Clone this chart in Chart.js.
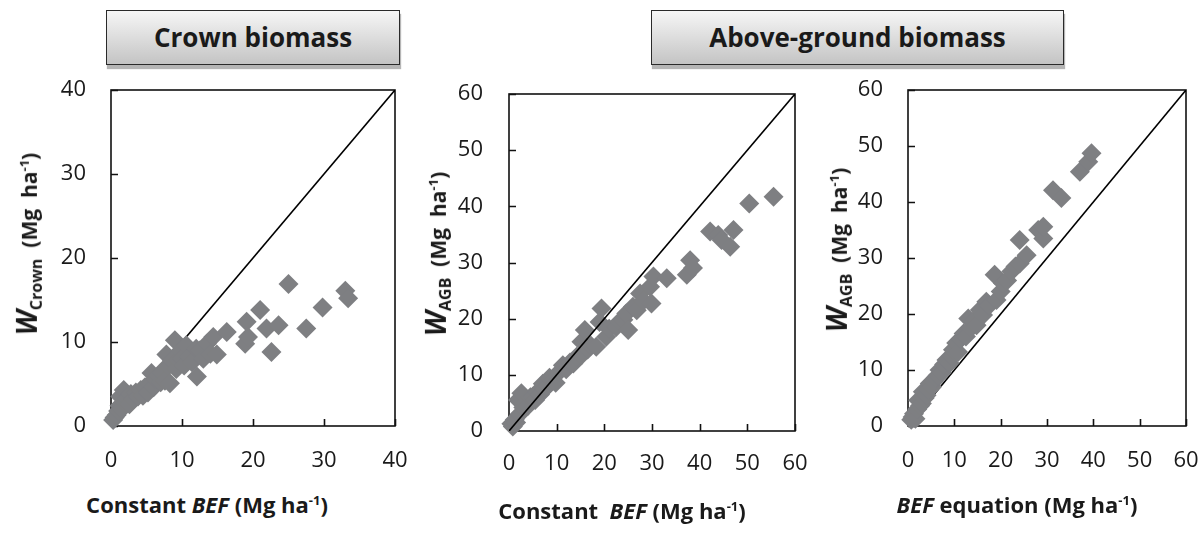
<!DOCTYPE html>
<html>
<head>
<meta charset="utf-8">
<script src="https://cdn.jsdelivr.net/npm/chart.js@4.4.1/dist/chart.umd.min.js"></script>
<style>
  body { margin: 0; background: #fff; width: 1204px; height: 540px; overflow: hidden; position: relative; font-family: "Open Sans", sans-serif; color: #1a1a1a; }
  .panel { position: absolute; }
  .head {
    position: absolute; height: 55px; box-sizing: border-box;
    border: 1.5px solid #2a2a2a;
    background: linear-gradient(#f6f6f6, #c4c4c4);
    box-shadow: 1px 4px 1px #b5b5b5;
    font-weight: bold; font-size: 26px; text-align: center; line-height: 52px;
  }
  .xt, .yt { position: absolute; white-space: nowrap; font-weight: bold; font-size: 22px; transform: translate(-50%, -50%); }
  .yt { font-size: 21px; transform: translate(-50%, -50%) rotate(-90deg); }
  .yt i { font-size: 28px; }
  .yt sub { font-size: 16px; }
  sup { font-size: 13px; }
</style>
</head>
<body>
<div class="head" style="left:106px; top:10px; width:294px;">Crown biomass</div>
<div class="head" style="left:651px; top:10px; width:413px;">Above-ground biomass</div>

<canvas id="c1" class="panel" width="415" height="440" style="left:30px; top:40px;"></canvas>
<canvas id="c2" class="panel" width="405" height="440" style="left:440px; top:44px;"></canvas>
<canvas id="c3" class="panel" width="396" height="440" style="left:840px; top:40px;"></canvas>

<div class="yt" style="left:27px; top:244px;"><i>W</i><sub>Crown</sub>&nbsp; (Mg&nbsp; ha<sup>-1</sup>)</div>
<div class="yt" style="left:436px; top:254px;"><i>W</i><sub>AGB</sub>&nbsp; (Mg&nbsp; ha<sup>-1</sup>)</div>
<div class="yt" style="left:837px; top:250px;"><i>W</i><sub>AGB</sub>&nbsp; (Mg&nbsp; ha<sup>-1</sup>)</div>

<div class="xt" style="left:207px; top:504px;">Constant <i>BEF</i> (Mg ha<sup>-1</sup>)</div>
<div class="xt" style="left:622px; top:510px;">Constant&nbsp; <i>BEF</i> (Mg ha<sup>-1</sup>)</div>
<div class="xt" style="left:1017px; top:504px;"><i>BEF</i> equation (Mg ha<sup>-1</sup>)</div>

<script>
// crown biomass: constant BEF (x) vs W crown (y)
const crownX = [0.3, 0.5, 0.8, 1.0, 1.2, 1.5, 1.3, 1.8, 2.0, 2.3, 2.6, 2.8, 3.2, 3.5, 3.8, 4.2, 4.5, 4.8, 5.2, 5.5, 5.7, 6.0, 6.3, 6.6, 7.0, 7.2, 7.6, 7.8, 8.0, 8.3, 8.6, 9.0, 9.2, 9.5, 9.8, 10.0, 10.3, 10.6, 11.0, 11.4, 12.1, 12.0, 12.5, 13.0, 13.5, 14.0, 14.4, 14.9, 16.3, 18.9, 19.1, 19.3, 21.0, 21.9, 22.6, 23.6, 25.0, 27.5, 29.8, 33.0, 33.4];
const crownY = [0.7, 1.0, 1.3, 1.8, 2.4, 2.0, 3.5, 4.3, 2.8, 3.3, 2.6, 3.8, 3.2, 4.0, 3.5, 4.3, 3.6, 4.6, 4.0, 5.0, 6.3, 4.6, 5.6, 6.0, 5.2, 6.4, 5.4, 8.5, 7.2, 5.1, 7.8, 10.2, 6.8, 7.9, 9.0, 8.0, 7.2, 9.6, 8.3, 7.6, 5.9, 9.2, 9.0, 8.0, 9.8, 8.6, 10.6, 8.5, 11.2, 9.8, 12.4, 10.6, 13.8, 11.6, 8.8, 12.0, 16.9, 11.6, 14.1, 16.1, 15.2];

// above-ground biomass: constant BEF
const agbConstX = [0.5, 0.8, 1.2, 1.5, 1.9, 2.2, 2.6, 3.0, 3.5, 4.0, 4.5, 5.0, 5.5, 6.0, 6.5, 7.1, 7.5, 8.0, 8.5, 9.2, 9.8, 10.5, 11.3, 12.0, 12.8, 13.5, 14.2, 15.2, 15.2, 15.9, 16.5, 17.2, 18.3, 19.0, 19.4, 20.4, 21.0, 22.5, 23.2, 24.0, 24.6, 25.0, 26.0, 26.8, 27.5, 28.2, 29.6, 29.9, 30.3, 33.1, 37.3, 38.0, 38.6, 42.2, 43.9, 44.6, 46.4, 47.1, 50.4, 55.5];
const agbConstY = [1.3, 0.8, 2.0, 1.5, 5.5, 3.0, 6.7, 4.2, 5.0, 4.5, 6.0, 6.1, 5.5, 7.0, 6.5, 8.4, 7.5, 8.0, 9.5, 9.0, 8.6, 10.5, 11.7, 11.0, 12.2, 12.0, 13.2, 13.5, 15.9, 18.0, 14.5, 15.2, 15.0, 19.4, 21.8, 16.8, 18.2, 18.5, 19.5, 19.8, 20.9, 18.0, 22.1, 21.5, 24.5, 23.2, 25.7, 22.7, 27.5, 27.2, 27.8, 30.4, 29.0, 35.5, 34.9, 34.0, 32.8, 35.8, 40.5, 41.7];

// above-ground biomass: BEF equation
const agbEqX = [0.7, 1.0, 1.3, 1.6, 2.0, 2.2, 2.6, 3.0, 3.2, 3.6, 4.0, 4.4, 4.7, 5.2, 5.6, 6.0, 6.4, 6.8, 7.3, 7.8, 8.3, 9.0, 9.4, 9.7, 10.4, 10.8, 11.3, 12.0, 12.5, 13.0, 13.6, 14.2, 14.8, 15.5, 16.2, 16.9, 17.5, 18.7, 19.1, 20.0, 20.5, 21.4, 22.3, 23.2, 24.1, 24.1, 25.6, 28.1, 29.2, 29.2, 31.3, 33.1, 37.1, 38.9, 39.6];
const agbEqY = [1.1, 1.6, 2.2, 1.3, 3.0, 4.6, 3.6, 4.0, 6.1, 5.0, 5.5, 6.4, 7.6, 7.0, 8.0, 8.6, 9.0, 10.0, 9.5, 11.0, 11.8, 11.2, 12.5, 13.6, 14.8, 13.2, 15.5, 16.5, 16.0, 19.2, 17.5, 18.8, 18.0, 20.7, 19.8, 22.2, 21.5, 27.0, 22.5, 24.0, 25.5, 26.0, 27.6, 28.5, 29.0, 33.2, 30.5, 35.0, 33.5, 35.6, 42.1, 40.7, 45.4, 47.2, 48.7];

const crownTicks = [0, 10, 20, 30, 40];
const agbTicks = [0, 10, 20, 30, 40, 50, 60];

// box round the plot + short ticks pointing inwards
const frame = {
  id: 'frame',
  beforeDatasetsDraw(chart) {
    const { ctx, chartArea: a, scales } = chart;
    ctx.save();
    ctx.strokeStyle = '#111';
    ctx.lineWidth = 1.6;
    ctx.strokeRect(a.left, a.top, a.right - a.left, a.bottom - a.top);
    ctx.beginPath();
    scales.x.ticks.forEach(t => {
      const px = Math.round(scales.x.getPixelForValue(t.value)) + 0.5;
      ctx.moveTo(px, a.bottom);
      ctx.lineTo(px, a.bottom - 7);
    });
    scales.y.ticks.forEach(t => {
      const py = Math.round(scales.y.getPixelForValue(t.value)) + 0.5;
      ctx.moveTo(a.left, py);
      ctx.lineTo(a.left + 7, py);
    });
    ctx.stroke();
    ctx.restore();
  }
};

function makeChart(id, xs, ys, ticks, opt) {
  const max = ticks[ticks.length - 1];
  const pts = xs.map((x, i) => ({ x: x, y: ys[i] }));
  const scatter = {
    type: 'scatter',
    data: pts,
    pointStyle: 'rectRot',
    pointRadius: 10,
    pointHoverRadius: 10,
    backgroundColor: '#7e7f82',
    borderWidth: 0,
    clip: false,
    order: opt.lineOnTop ? 1 : 0
  };
  const line = {
    type: 'line',
    data: [{ x: 0, y: 0 }, { x: max, y: max }],
    borderColor: '#000',
    borderWidth: 1.6,
    pointRadius: 0,
    order: opt.lineOnTop ? 0 : 1
  };
  const tickFont = { family: 'Open Sans', size: 22 };
  return new Chart(document.getElementById(id), {
    type: 'scatter',
    data: { datasets: [scatter, line] },
    options: {
      responsive: false,
      animation: false,
      events: [],
      // big pads so they win over the label overhang the scales ask for
      layout: { padding: { top: 50, right: 50, left: 0, bottom: 0 } },
      plugins: { legend: { display: false }, tooltip: { enabled: false } },
      scales: {
        x: {
          type: 'linear', min: 0, max: max,
          border: { display: false },
          grid: { display: false, drawTicks: false },
          ticks: { stepSize: 10, font: tickFont, color: '#1a1a1a', padding: opt.xPad, maxRotation: 0 },
          afterFit: s => { s.height = opt.xH; }
        },
        y: {
          type: 'linear', min: 0, max: max,
          border: { display: false },
          grid: { display: false, drawTicks: false },
          ticks: { stepSize: 10, font: tickFont, color: '#1a1a1a', padding: opt.yPad },
          afterFit: s => { s.width = opt.yW; }
        }
      }
    },
    plugins: [frame]
  });
}

makeChart('c1', crownX, crownY, crownTicks, { yW: 81, xH: 54, xPad: 22, yPad: 25, lineOnTop: false });
makeChart('c2', agbConstX, agbConstY, agbTicks, { yW: 69, xH: 53, xPad: 20, yPad: 26, lineOnTop: true });
makeChart('c3', agbEqX, agbEqY, agbTicks, { yW: 68, xH: 54, xPad: 22, yPad: 25, lineOnTop: false });
</script>
</body>
</html>
